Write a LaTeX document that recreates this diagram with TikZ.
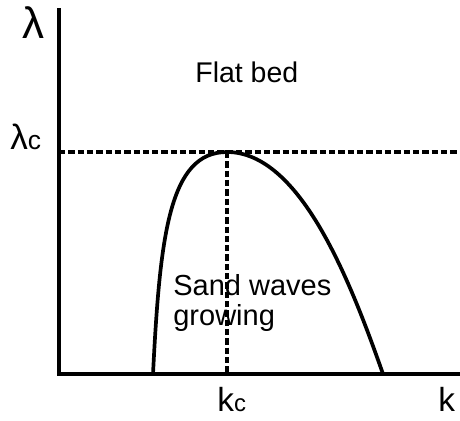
\documentclass[tikz,border=0pt]{standalone}
\usepackage{fontspec}
\setmainfont{Liberation Sans}
\usetikzlibrary{positioning}
\newcommand{\fsz}[2]{{\fontsize{#1}{#1}\selectfont #2}}

\begin{document}
\begin{tikzpicture}[x=0.2mm, y=-0.2mm,
  axisline/.style={line width=2.6pt},
  curveline/.style={line width=2.1pt},
  guideline/.style={line width=1.9pt, dash pattern=on 3.6pt off 1.7pt},
  lbl/.style={anchor=base west, inner sep=0pt}]
  \useasboundingbox (0,0) rectangle (460,420);
  % axes
  \coordinate (ytop) at (59,8);
  \coordinate (ybot) at (59,376);
  \coordinate (xbeg) at (57,374);
  \coordinate (xend) at (460,374);
  \draw[axisline] (ytop) -- (ybot);
  \draw[axisline] (xbeg) -- (xend);
  % critical point
  \coordinate (peak) at (227,152);
  \coordinate (lcaxis) at (59,152);
  \coordinate (lcend) at (458,152);
  \coordinate (kcaxis) at (227,374);
  \draw[guideline] (lcaxis) -- (lcend);
  \draw[guideline] (peak) -- (kcaxis);
  % neutral curve
  \coordinate (footl) at (153,374);
  \coordinate (footr) at (383,374);
  \draw[curveline] (footl) .. controls (160,236) and (169,152) .. (peak)
                          .. controls (300,152) and (350,280) .. (footr);
  % labels
  \node[lbl] (lam) at (22,38) {\fsz{25}{λ}};
  \node[lbl] (lamc) at (10,149) {\fsz{20}{λ}\fsz{15}{c}};
  \node[lbl] (kc) at (217,411) {\fsz{19}{k}\fsz{13.6}{c}};
  \node[lbl] (kax) at (438,411) {\fsz{19}{k}};
  \node[lbl] (flat) at (195,82) {\fsz{16.2}{Flat bed}};
  \node[lbl] (sand1) at (173,295) {\fsz{16.5}{Sand waves}};
  \node[lbl] (sand2) at (173,325) {\fsz{16.5}{growing}};
\end{tikzpicture}
\end{document}
